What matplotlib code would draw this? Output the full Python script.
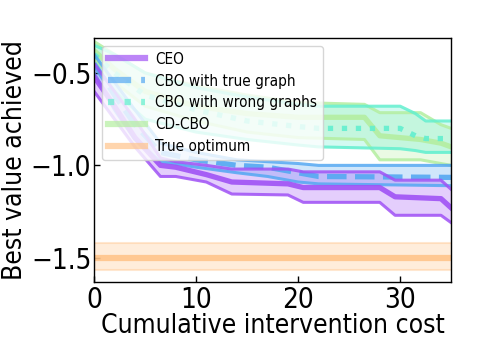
import matplotlib
matplotlib.use("Agg")
import matplotlib.pyplot as plt
import numpy as np

# ---- data (cumulative cost -> best value) ----
ceo_x = [0, 2, 4, 6.5, 8, 11, 13.5, 19, 20.5, 28, 29.5, 34, 35]
ceo_hi = [-0.45, -0.6, -0.75, -0.96, -0.98, -1.0, -1.02, -1.02, -1.035, -1.035, -1.08, -1.08, -1.13]
ceo_mean = [-0.52, -0.68, -0.85, -1.0, -1.01, -1.05, -1.09, -1.1, -1.12, -1.12, -1.17, -1.18, -1.23]
ceo_lo = [-0.6, -0.75, -0.9, -1.06, -1.06, -1.09, -1.155, -1.16, -1.2, -1.2, -1.27, -1.27, -1.31]

cbo_x = [0, 2, 4, 6.5, 10, 14, 17, 20, 22, 35]
cbo_hi = [-0.4, -0.55, -0.7, -0.88, -0.93, -0.97, -0.98, -0.99, -1.0, -1.0]
cbo_mean = [-0.45, -0.62, -0.78, -0.93, -0.97, -1.0, -1.01, -1.04, -1.06, -1.065]
cbo_lo = [-0.5, -0.7, -0.86, -0.98, -1.01, -1.04, -1.06, -1.09, -1.1, -1.11]

wrong_x = [0, 2, 5, 10, 15, 20, 22, 30, 31.5, 32.5, 35]
wrong_hi = [-0.35, -0.4, -0.5, -0.58, -0.63, -0.67, -0.68, -0.68, -0.72, -0.76, -0.76]
wrong_mean = [-0.4, -0.5, -0.62, -0.7, -0.76, -0.79, -0.8, -0.8, -0.84, -0.855, -0.855]
wrong_lo = [-0.45, -0.6, -0.75, -0.82, -0.86, -0.89, -0.9, -0.91, -0.92, -0.93, -0.93]

cd_x = [0, 2, 5, 10, 15, 20, 26.5, 28, 32, 34, 35]
cd_hi = [-0.33, -0.4, -0.5, -0.57, -0.62, -0.66, -0.67, -0.715, -0.715, -0.78, -0.8]
cd_mean = [-0.38, -0.48, -0.6, -0.68, -0.72, -0.74, -0.74, -0.84, -0.86, -0.88, -0.9]
cd_lo = [-0.42, -0.55, -0.68, -0.76, -0.82, -0.85, -0.86, -0.97, -0.97, -0.99, -1.0]

true_opt = -1.5
true_band = (-1.565, -1.42)

fig = plt.figure(figsize=(4.98, 3.39), dpi=100)
ax = fig.add_axes([0.189, 0.168, 0.717, 0.72])

# true optimum band
ax.axhspan(true_band[0], true_band[1], color='#ffc48a', alpha=0.3, lw=0)
ax.axhline(true_band[0], color='#ffc48a', alpha=0.4, lw=1.5)
ax.axhline(true_band[1], color='#ffc48a', alpha=0.4, lw=1.5)
h_opt = ax.axhline(true_opt, color='#ffc48a', alpha=0.9, lw=4.5)

series = [
    ("CD-CBO", cd_x, cd_lo, cd_mean, cd_hi, '#b4eea0', '-'),
    ("CBO with wrong graphs", wrong_x, wrong_lo, wrong_mean, wrong_hi, '#62efcf', ':'),
    ("CBO with true graph", cbo_x, cbo_lo, cbo_mean, cbo_hi, '#55a8f2', '--'),
    ("CEO", ceo_x, ceo_lo, ceo_mean, ceo_hi, '#a052f5', '-'),
]
handles = {}
for name, x, lo, mean, hi, c, ls in series:
    ax.fill_between(x, lo, hi, color=c, alpha=0.28, lw=0)
    ax.plot(x, lo, color=c, lw=2.2, alpha=0.85)
    ax.plot(x, hi, color=c, lw=2.2, alpha=0.85)
    h, = ax.plot(x, mean, color=c, lw=3.8, ls=ls, alpha=0.9)
    handles[name] = h

order = ["CEO", "CBO with true graph", "CBO with wrong graphs", "CD-CBO"]
leg_h = [handles[n] for n in order] + [h_opt]
leg = ax.legend(leg_h, order + ["True optimum"], loc='upper left',
                prop=dict(family='DejaVu Sans', stretch='condensed', size=11),
                handlelength=2.4, handletextpad=0.7, labelspacing=0.45,
                framealpha=0.8)
for lh in leg.get_lines():
    lh.set_linewidth(4.5)
    lh.set_alpha(0.7)

ax.set_xlim(0, 35)
ax.set_ylim(-1.631, -0.311)
ax.set_xticks([0, 10, 20, 30])
ax.set_yticks([-1.5, -1.0, -0.5])

lab_font = dict(family='DejaVu Sans', stretch='condensed', size=19)
ax.tick_params(direction='in', length=4, width=1)
ax.tick_params(axis='x', pad=3)
ax.tick_params(axis='y', pad=2)
for t in ax.get_xticklabels() + ax.get_yticklabels():
    t.set_fontfamily('DejaVu Sans')
    t.set_fontstretch('condensed')
    t.set_fontsize(20)
ax.set_xlabel("Cumulative intervention cost", fontdict=lab_font, labelpad=-1)
ax.set_ylabel("Best value achieved", fontdict=lab_font, labelpad=2)
for s in ax.spines.values():
    s.set_linewidth(1.0)

plt.savefig("out.png", dpi=100)
